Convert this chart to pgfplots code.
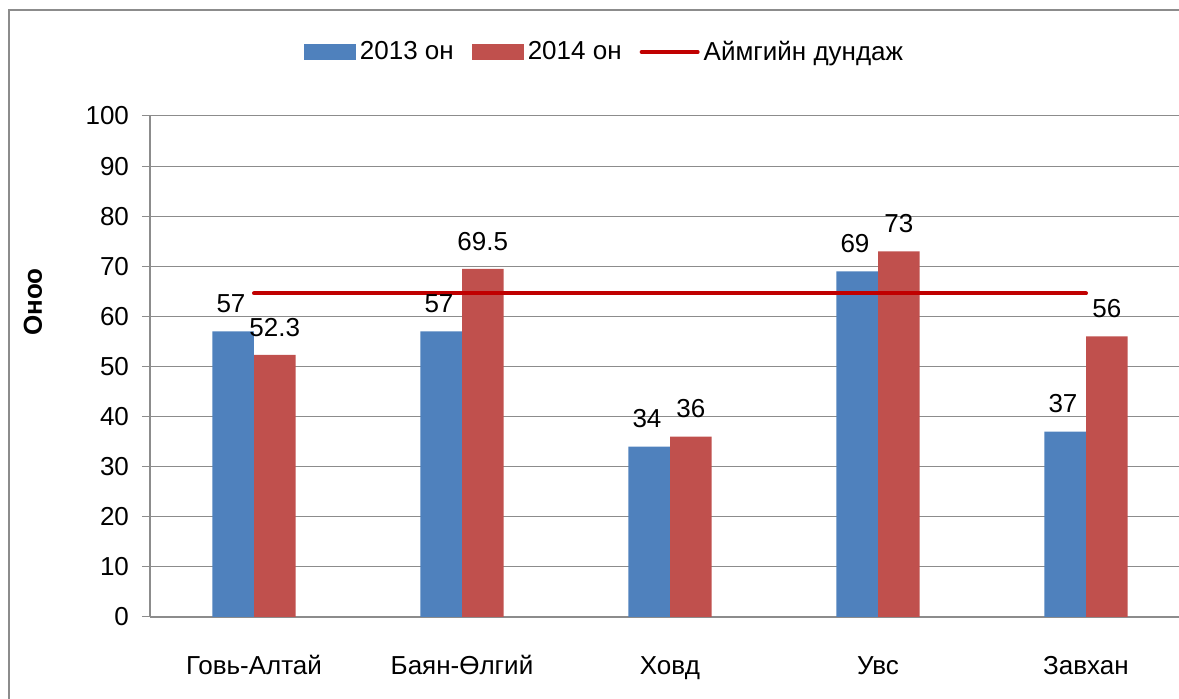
\documentclass[border=0pt]{standalone}
\usepackage{fontspec}
\setmainfont{Liberation Sans}
\usepackage{pgfplots}
\pgfplotsset{compat=1.18}
\definecolor{bar13}{HTML}{4F81BD}
\definecolor{bar14}{HTML}{C0504D}
\definecolor{avgline}{HTML}{C00000}
\definecolor{gridgray}{HTML}{8C8C8C}

\begin{document}
\begin{tikzpicture}[font=\fontsize{13}{15.6}\selectfont]
\useasboundingbox (0,0) rectangle (589.5pt,349.5pt);
\clip (0,0) rectangle (589.5pt,349.5pt);
% chart frame (cropped at the bottom and right in the source)
\draw[gridgray, line width=1pt] (4.5pt,-5pt) -- (4.5pt,344.5pt) -- (600pt,344.5pt);
\begin{axis}[
  at={(75pt,41pt)}, anchor=south west,
  scale only axis,
  width=514.8pt, height=250.5pt,
  xmin=-0.5, xmax=4.45,
  ymin=0, ymax=100,
  xtick={0,1,2,3,4},
  xticklabels={Говь-Алтай, Баян-Өлгий, Ховд, Увс, Завхан},
  ytick={0,10,...,100},
  /pgf/number format/assume math mode=true,
  axis lines*=left,
  axis line style={draw=gridgray, line width=0.6pt, -},
  ymajorgrids,
  grid style={draw=gridgray, line width=0.5pt},
  tick align=outside,
  major tick length=4pt,
  xtick style={draw=none},
  ytick style={draw=gridgray, line width=0.5pt},
  yticklabel style={xshift=-3pt},
  xticklabel style={anchor=base, yshift=-25pt},
  legend columns=3,
  legend style={at={(0.4424,1.1277)}, anchor=center, draw=none, fill=none,
    /tikz/every even column/.append style={column sep=7pt}},
  legend cell align=left,
  nodes near coords style={anchor=south, inner sep=0pt, yshift=9pt, text=black},
]
\addplot[ybar, bar width=20.75pt, bar shift=-10.4pt, fill=bar13, draw=none,
  nodes near coords,
  every node near coord/.append style={xshift=-11.5pt},
  legend image code/.code={\fill[bar13] (0pt,-4pt) rectangle (26pt,4pt);}]
  coordinates {(0,57) (1,57) (2,34) (3,69) (4,37)};
\addlegendentry{2013 он}
\addplot[ybar, bar width=20.75pt, bar shift=10.4pt, fill=bar14, draw=none,
  nodes near coords,
  every node near coord/.append style={xshift=10.4pt},
  legend image code/.code={\fill[bar14] (0pt,-4pt) rectangle (26pt,4pt);}]
  coordinates {(0,52.3) (1,69.5) (2,36) (3,73) (4,56)};
\addlegendentry{2014 он}
\addplot[sharp plot, no marks, avgline, line width=2pt, line cap=round,
  legend image code/.code={\draw[avgline, line width=2pt, line cap=round] (0pt,0pt) -- (28pt,0pt);}]
  coordinates {(0,64.6) (4,64.6)};
\addlegendentry{Аймгийн дундаж}
\end{axis}
\node[rotate=90, font=\fontsize{13}{15.6}\selectfont\bfseries] at (16.5pt,198.5pt) {Оноо};
\end{tikzpicture}
\end{document}
